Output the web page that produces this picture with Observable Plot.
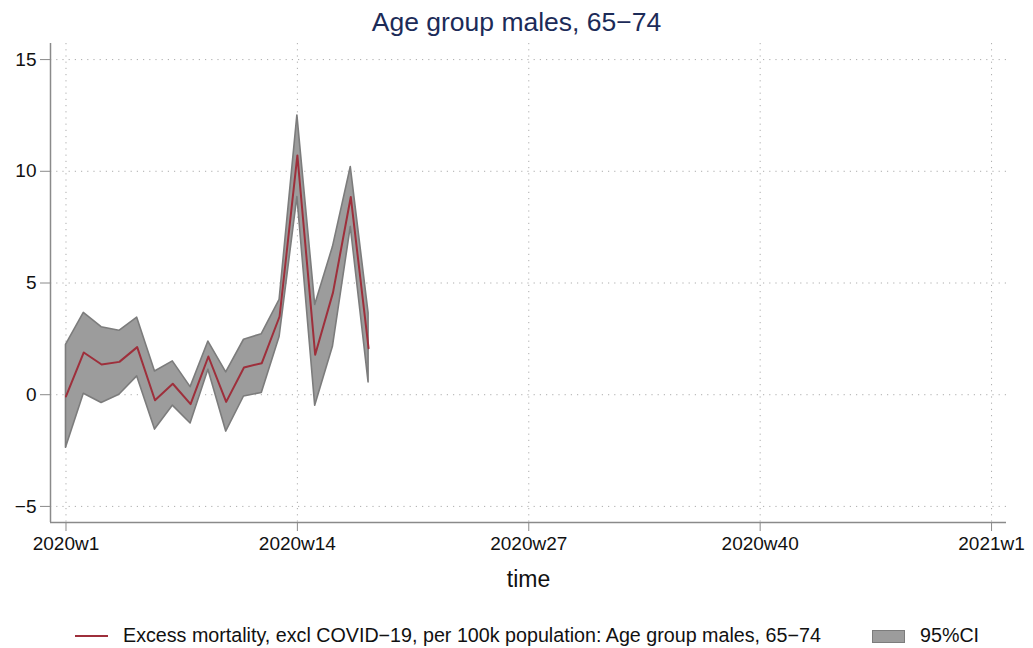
<!DOCTYPE html>
<html>
<head>
<meta charset="utf-8">
<script src="https://cdn.jsdelivr.net/npm/d3@7"></script>
<script src="https://cdn.jsdelivr.net/npm/@observablehq/plot@0.6"></script>
<style>
  body { margin: 0; background: #fff; font-family: "Liberation Sans", Arial, sans-serif; width: 1033px; }
  #title { height: 40px; text-align: center; font-size: 26.5px; line-height: 44px; color: #1c2b58; }
  #legend { position: relative; height: 48px; font-size: 19.7px; color: #111; }
  .sw-line { position: absolute; left: 75px; top: 35px; width: 33px; height: 2px; background: #9e2f3b; }
  .lab1 { position: absolute; left: 123px; top: 24px; white-space: nowrap; }
  .sw-box { position: absolute; left: 872px; top: 30px; width: 31px; height: 11px; background: #9c9c9c; border: 1.5px solid #7c7c7c; }
  .lab2 { position: absolute; left: 920px; top: 24px; white-space: nowrap; }
</style>
</head>
<body>
<div id="title">Age group males, 65−74</div>
<div id="chart"></div>
<div id="legend">
  <div class="sw-line"></div><div class="lab1">Excess mortality, excl COVID−19, per 100k population: Age group males, 65−74</div>
  <div class="sw-box"></div><div class="lab2">95%CI</div>
</div>
<script>
// Week of 2020 (1..18)
const weeks = [1,2,3,4,5,6,7,8,9,10,11,12,13,14,15,16,17,18];
const excess = [-0.08,1.89,1.35,1.47,2.13,-0.25,0.49,-0.42,1.71,-0.32,1.22,1.41,3.5,10.71,1.79,4.57,8.85,2.08];
const ciLow  = [-2.37,0.04,-0.37,0.0,0.82,-1.56,-0.49,-1.29,1.12,-1.65,-0.08,0.08,2.58,8.85,-0.49,2.16,7.51,0.55];
const ciHigh = [2.23,3.66,3.02,2.86,3.45,1.04,1.49,0.34,2.38,1.0,2.46,2.71,4.24,12.5,4.02,6.62,10.19,3.65];

const xTickPos = [0, 13, 26, 39, 52];
const xTickLabels = ["2020w1", "2020w14", "2020w27", "2020w40", "2021w1"];
const yTicks = [-5, 0, 5, 10, 15];

const data = weeks.map((w, i) => ({t: w - 1, v: excess[i], lo: ciLow[i], hi: ciHigh[i]}));
const xDom = [-0.87, 52.84];
const yDom = [-5.72, 15.72];

const chart = Plot.plot({
  width: 1033,
  height: 560,
  marginLeft: 50,
  marginRight: 27,
  marginTop: 3,
  marginBottom: 78,
  style: {fontFamily: "Liberation Sans, Arial, sans-serif", background: "#fff"},
  x: {domain: xDom, label: null},
  y: {domain: yDom, label: null},
  marks: [
    Plot.gridY(yTicks, {stroke: "#999", strokeOpacity: 0.8, strokeDasharray: "1.2,5"}),
    Plot.gridX(xTickPos, {stroke: "#999", strokeOpacity: 0.8, strokeDasharray: "1.2,5"}),
    Plot.areaY(data, {x: "t", y1: "lo", y2: "hi", fill: "#9c9c9c", stroke: "#7c7c7c", strokeWidth: 1.6}),
    Plot.lineY(data, {x: "t", y: "v", stroke: "#9e2f3b", strokeWidth: 2}),
    Plot.ruleX([xDom[0]], {stroke: "#8a8a8a", strokeWidth: 1.5}),
    Plot.ruleY([yDom[0]], {stroke: "#8a8a8a", strokeWidth: 1.5}),
    Plot.axisY(yTicks, {tickSize: 10, tickPadding: 4, fontSize: 19, stroke: "#8a8a8a", fill: "#111", label: null}),
    Plot.axisX(xTickPos, {tickSize: 9, tickPadding: 5, fontSize: 19, stroke: "#8a8a8a", fill: "#111",
      tickFormat: (d) => xTickLabels[xTickPos.indexOf(d)], label: null}),
    Plot.text(["time"], {frameAnchor: "bottom", lineAnchor: "bottom", dy: 64, fontSize: 23, fill: "#111"})
  ]
});
document.getElementById("chart").appendChild(chart);
</script>
</body>
</html>
